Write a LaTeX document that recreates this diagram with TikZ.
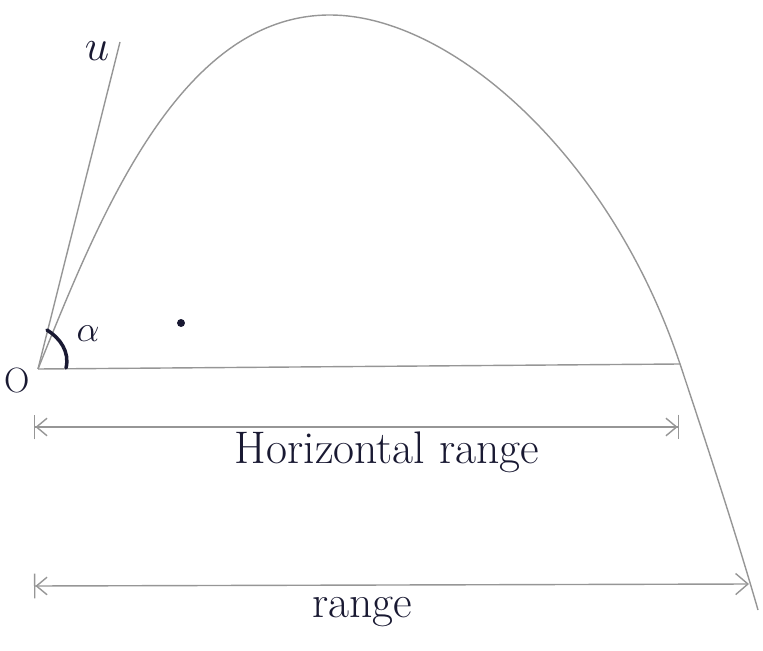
\documentclass[tikz,border=0pt]{standalone}
\usepackage{xcolor}
\usepackage{amssymb}
\usepackage{amsmath}
\usepackage{tikz}
\usetikzlibrary{arrows.meta}
\definecolor{pencil}{RGB}{150,150,150}
\definecolor{ink}{RGB}{25,25,50}

\begin{document}
\begin{tikzpicture}[x=0.02cm, y=-0.02cm,
  pencilline/.style={draw=pencil, line width=0.8pt},
  dimline/.style={pencilline, {Bar[width=14pt]Straight Barb[length=6pt,width=10pt]}-{Straight Barb[length=6pt,width=10pt]Bar[width=14pt]}},
  rangeline/.style={pencilline, {Bar[width=14pt]Straight Barb[length=6pt,width=10pt]}-{Straight Barb[length=7pt,width=12pt]}},
  label/.style={text=ink, inner sep=0pt, anchor=base}]
\useasboundingbox (0,0) rectangle (763,651);
\coordinate (O) at (38,369);
\coordinate (U) at (120,42);
\coordinate (top) at (330,15);
\coordinate (G) at (680,364);
\coordinate (E) at (758,610);
\coordinate (hl) at (34,427);
\coordinate (hr) at (679,427);
\coordinate (rl) at (34,586);
\coordinate (rr) at (749,584);
\draw[pencilline] (O) -- (U);
\draw[pencilline] (O) -- (G);
\draw[pencilline] (O) .. controls (100,215) and (180,15) .. (top) .. controls (450,15) and (610,154) .. (G) .. controls (700,424) and (735,530) .. (E);
\draw[dimline] (hl) -- (hr);
\draw[rangeline] (rl) -- (rr);
\draw[ink, line width=2pt, line cap=round] (47,330) .. controls (60,338) and (70,352) .. (66,368);
\node[circle, fill=ink, inner sep=1.6pt] (dot) at (181,323) {};
\node[label, font=\fontsize{20}{22}\selectfont] (origin) at (17,392) {O};
\node[label, font=\fontsize{24}{26}\selectfont] (speed) at (97,61) {$u$};
\node[label, font=\fontsize{20}{22}\selectfont] (angle) at (88,341) {$\alpha$};
\node[label, font=\fontsize{26}{30}\selectfont] (hrange) at (387,463) {Horizontal range};
\node[label, font=\fontsize{26}{30}\selectfont] (range) at (362,617) {range};
\end{tikzpicture}
\end{document}
